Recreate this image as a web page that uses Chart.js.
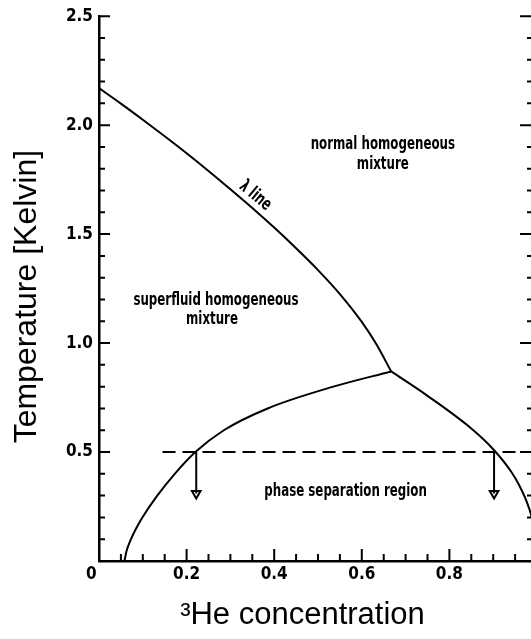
<!DOCTYPE html>
<html><head><meta charset="utf-8">
<script src="https://cdn.jsdelivr.net/npm/chart.js@4.4.1/dist/chart.umd.min.js"></script>
<style>html,body{margin:0;padding:0;background:#fff;overflow:hidden;width:531px;height:639px}canvas{display:block}</style>
</head><body>
<canvas id="c" width="545" height="639"></canvas>
<script>
// ---- data ----
const lambdaX = [0, 0.05, 0.10, 0.15, 0.20, 0.25, 0.30, 0.35, 0.40, 0.45, 0.50, 0.55, 0.60, 0.634, 0.667];
const lambdaT = [2.17, 2.099, 2.025, 1.949, 1.871, 1.79, 1.706, 1.62, 1.53, 1.435, 1.335, 1.225, 1.097, 0.992, 0.87];
const sepLeftX = [0.058, 0.0635, 0.073, 0.085, 0.099, 0.133, 0.173, 0.22, 0.285, 0.385, 0.535, 0.667];
const sepLeftT = [0, 0.05, 0.10, 0.15, 0.20, 0.30, 0.40, 0.50, 0.60, 0.70, 0.80, 0.87];
const sepRightX = [0.667, 0.75, 0.85, 0.90, 0.94, 0.96, 0.98, 0.99, 1.0];
const sepRightT = [0.87, 0.758, 0.608, 0.513, 0.413, 0.345, 0.253, 0.18, 0];
const tieLineX = [0.145, 1.0];
const tieLineT = 0.5;
const arrowX = [0.222, 0.902];
const arrowFromT = 0.5;
const arrowToT = 0.31;
const xTickLabels = {0: '0\u2002\u2002', 20: '0.2', 40: '0.4', 60: '0.6', 80: '0.8'};
const yTickLabels = {5: '0.5', 10: '1.0', 15: '1.5', 20: '2.0', 25: '2.5'};
const regionTexts = ['normal homogeneous', 'mixture', 'superfluid homogeneous', 'mixture', 'phase separation region', '\u03bb line'];

// ---- layout of annotation texts (data coordinates) ----
const textPlaces = [
  {x: 0.648, y: 1.889, rot: 0},
  {x: 0.648, y: 1.799, rot: 0},
  {x: 0.267, y: 1.177, rot: 0},
  {x: 0.258, y: 1.086, rot: 0},
  {x: 0.563, y: 0.299, rot: 0},
  {x: 0.350, y: 1.660, rot: 40}
];

const pts = (xs, ys) => xs.map((x, i) => ({x, y: Array.isArray(ys) ? ys[i] : ys}));
const narrow = "'Liberation Sans Narrow', 'DejaVu Sans Condensed', sans-serif";

const innerTicks = {
  id: 'innerTicks',
  afterDraw(chart) {
    const {ctx, chartArea: a, scales: {x, y}} = chart;
    ctx.save();
    ctx.strokeStyle = '#000';
    ctx.lineWidth = 2;
    ctx.beginPath();
    x.ticks.forEach(t => {
      const k = Math.round(t.value * 100);
      if (k <= 0 || k >= 100) return;
      const px = x.getPixelForValue(t.value);
      const len = (k % 20 === 0) ? 12 : 7;
      ctx.moveTo(px, a.bottom); ctx.lineTo(px, a.bottom - len);
    });
    y.ticks.forEach(t => {
      const k = Math.round(t.value * 10);
      if (k <= 0) return;
      const py = y.getPixelForValue(t.value);
      const major = k % 5 === 0;
      ctx.moveTo(a.left, py); ctx.lineTo(a.left + (major ? 11 : 6), py);
      ctx.moveTo(a.right, py); ctx.lineTo(a.right - (major ? 17 : 10), py);
    });
    ctx.stroke();
    ctx.restore();
  }
};

const regionLabels = {
  id: 'regionLabels',
  afterDatasetsDraw(chart) {
    const {ctx, scales: {x, y}} = chart;
    ctx.save();
    ctx.fillStyle = '#000';
    ctx.font = "bold 18px " + narrow;
    ctx.textAlign = 'center';
    ctx.textBaseline = 'alphabetic';
    regionTexts.forEach((txt, i) => {
      const p = textPlaces[i];
      ctx.save();
      ctx.translate(x.getPixelForValue(p.x), y.getPixelForValue(p.y));
      ctx.rotate(p.rot * Math.PI / 180);
      ctx.scale(0.73, 1);
      ctx.fillText(txt, 0, 0);
      ctx.restore();
    });
    ctx.restore();
  }
};

const lineDs = (data, extra) => Object.assign({
  data, showLine: true, borderColor: '#000', borderWidth: 2, pointRadius: 0,
  fill: false, cubicInterpolationMode: 'monotone'
}, extra || {});

const datasets = [
  lineDs(pts(lambdaX, lambdaT)),
  lineDs(pts(sepLeftX, sepLeftT)),
  lineDs(pts(sepRightX, sepRightT)),
  lineDs(pts(tieLineX, tieLineT), {borderDash: [13, 7], cubicInterpolationMode: 'default', tension: 0})
];
arrowX.forEach(ax => datasets.push(lineDs(pts([ax, ax], [arrowFromT, arrowToT]), {
  cubicInterpolationMode: 'default', tension: 0, borderWidth: 2,
  pointRadius: [0, 5], pointStyle: 'triangle', rotation: 180,
  pointBackgroundColor: 'rgba(0,0,0,0)', pointBorderColor: '#000', pointBorderWidth: 2
})));

new Chart(document.getElementById('c'), {
  type: 'scatter',
  data: {datasets},
  options: {
    responsive: false, animation: false, devicePixelRatio: 1,
    layout: {padding: {top: 13, right: 8, bottom: 0, left: 0}},
    plugins: {legend: {display: false}, tooltip: {enabled: false}},
    scales: {
      x: {
        type: 'linear', min: 0, max: 1.0,
        grid: {display: true, drawOnChartArea: false, drawTicks: false},
        border: {display: true, color: '#000', width: 2.5},
        ticks: {
          stepSize: 0.05, autoSkip: false, maxRotation: 0, padding: 3, color: '#000',
          font: {family: narrow, weight: 'bold', size: 17},
          callback: v => xTickLabels[Math.round(v * 100)] || ''
        },
        title: {display: true, text: '\u00b3He concentration\u2002\u2002', color: '#000',
          font: {family: "'Liberation Sans', Arial, sans-serif", size: 31}, padding: {top: 0, bottom: 5}},
        afterFit: s => { s.height = 78; }
      },
      y: {
        type: 'linear', min: 0, max: 2.5,
        grid: {display: true, drawOnChartArea: false, drawTicks: false},
        border: {display: true, color: '#000', width: 2.5},
        ticks: {
          stepSize: 0.1, autoSkip: false, padding: 6, color: '#000',
          font: {family: narrow, weight: 'bold', size: 17},
          callback: v => yTickLabels[Math.round(v * 10)] || ''
        },
        title: {display: true, text: 'Temperature [Kelvin]\u2002', color: '#000',
          font: {family: "'Liberation Sans', Arial, sans-serif", size: 32}, padding: {top: 8, bottom: 0}},
        afterFit: s => { s.width = 99; }
      }
    }
  },
  plugins: [innerTicks, regionLabels]
});
</script>
</body></html>
